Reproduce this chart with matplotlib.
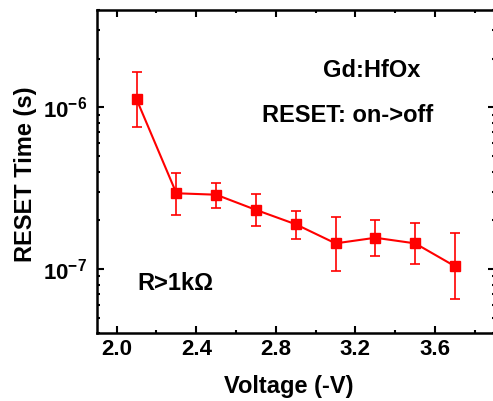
import numpy as np
import matplotlib.pyplot as plt
from matplotlib.ticker import LogLocator, MultipleLocator, NullFormatter

plt.rcParams['font.family'] = ['Liberation Sans', 'DejaVu Sans']
plt.rcParams['font.weight'] = 'bold'
plt.rcParams['mathtext.fontset'] = 'custom'
plt.rcParams['mathtext.rm'] = 'Liberation Sans:bold'
plt.rcParams['mathtext.bf'] = 'Liberation Sans:bold'
plt.rcParams['mathtext.default'] = 'bf'

# data
voltage = [2.1, 2.3, 2.5, 2.7, 2.9, 3.1, 3.3, 3.5, 3.7]
t_reset = [1.12e-6, 2.94e-7, 2.88e-7, 2.32e-7, 1.89e-7, 1.44e-7, 1.56e-7, 1.44e-7, 1.04e-7]
t_upper = [1.65e-6, 3.92e-7, 3.40e-7, 2.91e-7, 2.29e-7, 2.11e-7, 2.01e-7, 1.93e-7, 1.67e-7]
t_lower = [7.58e-7, 2.16e-7, 2.37e-7, 1.84e-7, 1.53e-7, 9.76e-8, 1.21e-7, 1.08e-7, 6.52e-8]

y = np.array(t_reset)
yerr = [y - np.array(t_lower), np.array(t_upper) - y]

W, H = 493, 401
fig = plt.figure(figsize=(W/100, H/100), dpi=100)
ax = fig.add_axes([96.8/W, 1 - 333.3/H, (494.7-96.8)/W, (333.3-10)/H])

ax.errorbar(voltage, y, yerr=yerr, color='#ff0000', marker='s', markersize=7.5,
            linewidth=1.5, elinewidth=1.2, capsize=3.5, capthick=1.2)

ax.set_yscale('log')
ax.set_xlim(1.9, 3.9)
ax.set_ylim(4e-8, 4e-6)
ax.xaxis.set_major_locator(MultipleLocator(0.4))
ax.xaxis.set_minor_locator(MultipleLocator(0.2))
ax.yaxis.set_major_locator(LogLocator(base=10, numticks=10))
ax.yaxis.set_minor_locator(LogLocator(base=10, subs=np.arange(2, 10), numticks=10))
ax.yaxis.set_minor_formatter(NullFormatter())

ax.tick_params(which='both', direction='in', top=True, right=True, width=1.5)
ax.tick_params(which='major', length=5, labelsize=16)
ax.tick_params(axis='x', which='major', pad=4)
ax.tick_params(axis='y', which='major', pad=7)
ax.tick_params(which='minor', length=2.5)
for s in ax.spines.values():
    s.set_linewidth(1.8)

fig.text(288.4/W, 1 - 392.7/H, 'Voltage (-V)', fontsize=17, fontweight='bold',
         ha='center', va='baseline')
fig.text(26/W, 1 - 174.5/H, 'RESET Time (s)', fontsize=17, fontweight='bold',
         ha='center', va='center', rotation=90)

fig.text(371.7/W, 1 - 77/H, 'Gd:HfOx', fontsize=17, fontweight='bold',
         ha='center', va='baseline')
fig.text(261.7/W, 1 - 122.3/H, 'RESET: on->off', fontsize=17, fontweight='bold',
         ha='left', va='baseline')
fig.text(137.3/W, 1 - 290/H, 'R>1k\u03a9', fontsize=17, fontweight='bold',
         ha='left', va='baseline')

fig.savefig('out.png', dpi=100)
